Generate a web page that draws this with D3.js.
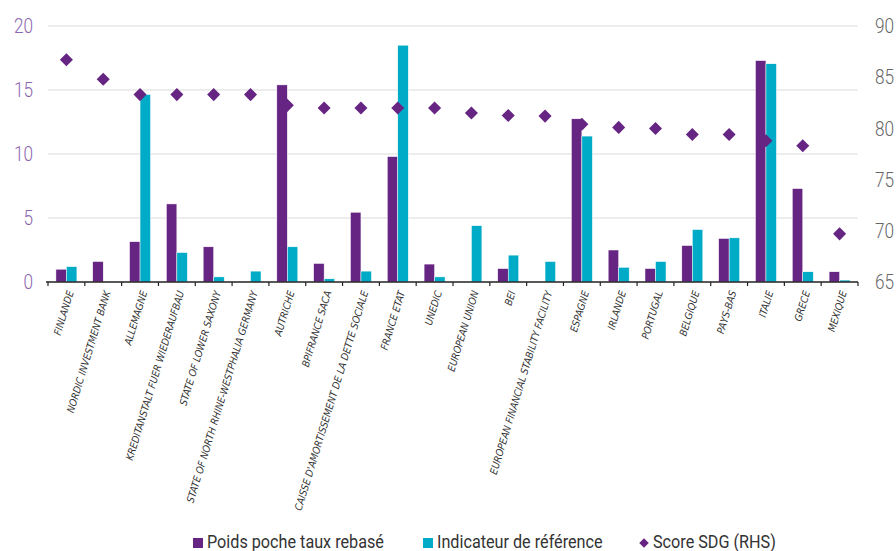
<!DOCTYPE html>
<html><head><meta charset="utf-8">
<script src="https://cdn.jsdelivr.net/npm/d3@7"></script>
<style>body{margin:0;background:#fff}svg{display:block}</style>
</head><body>
<script>
const categories = ["FINLANDE","NORDIC INVESTMENT BANK","ALLEMAGNE","KREDITANSTALT FUER WIEDERAUFBAU","STATE OF LOWER SAXONY","STATE OF NORTH RHINE-WESTPHALIA GERMANY","AUTRICHE","BPIFRANCE SACA","CAISSE D'AMORTISSEMENT DE LA DETTE SOCIALE","FRANCE ETAT","UNEDIC","EUROPEAN UNION","BEI","EUROPEAN FINANCIAL STABILITY FACILITY","ESPAGNE","IRLANDE","PORTUGAL","BELGIQUE","PAYS-BAS","ITALIE","GRECE","MEXIQUE"];
const poids = [1.0,1.6,3.15,6.1,2.75,0,15.4,1.45,5.45,9.8,1.4,0,1.05,0,12.75,2.5,1.05,2.85,3.4,17.3,7.3,0.8];
const indicateur = [1.2,0,14.65,2.3,0.4,0.85,2.75,0.25,0.85,18.5,0.4,4.4,2.1,1.6,11.4,1.15,1.6,4.1,3.45,17.05,0.8,0.15];
const scoreSDG = [86.7,84.8,83.3,83.3,83.3,83.3,82.25,82.0,82.0,82.0,82.0,81.5,81.25,81.2,80.4,80.1,80.0,79.4,79.4,78.8,78.3,69.7];
const leftTicks = [0,5,10,15,20];
const rightTicks = [65,70,75,80,85,90];
const seriesNames = ["Poids poche taux rebasé","Indicateur de référence","Score SDG (RHS)"];
const colors = ["#662483","#00abc7","#662483"];

const W=896,H=551;
const m={l:48,r:38,t:26,b:269};
const svg=d3.select("body").append("svg").attr("width",W).attr("height",H);
const x=d3.scaleBand().domain(categories).range([m.l,W-m.r]).padding(0);
const yL=d3.scaleLinear().domain([0,20]).range([H-m.b,m.t]);
const yR=d3.scaleLinear().domain([65,90]).range([H-m.b,m.t]);

// grid
svg.append("g").selectAll("line").data(leftTicks.filter(d=>d>0)).join("line")
  .attr("x1",m.l).attr("x2",W-m.r).attr("y1",d=>yL(d)).attr("y2",d=>yL(d))
  .attr("stroke","#dcdcdc").attr("stroke-width",1.2);

// left axis labels
svg.append("g").selectAll("text").data(leftTicks).join("text")
  .attr("transform",d=>`translate(33,${yL(d)}) scale(0.86,1)`).attr("dy","0.36em").attr("text-anchor","end")
  .attr("font-family","Roboto").attr("font-weight",300).attr("font-size",20)
  .attr("fill","#8a65b0").text(d=>d);
// right axis labels
svg.append("g").selectAll("text").data(rightTicks).join("text")
  .attr("transform",d=>`translate(875,${yR(d)}) scale(0.86,1)`).attr("dy","0.36em").attr("text-anchor","start")
  .attr("font-family","Roboto").attr("font-weight",300).attr("font-size",20)
  .attr("fill","#666").text(d=>d);

const bw=10.5;
const g=svg.append("g");
g.selectAll("rect.p").data(poids).join("rect").attr("class","p")
  .attr("x",(d,i)=>x(categories[i])+x.bandwidth()/2-bw).attr("width",bw)
  .attr("y",d=>yL(d)).attr("height",d=>yL(0)-yL(d)).attr("fill",colors[0])
  .attr("stroke","#fff").attr("stroke-width",0.5);
g.selectAll("rect.c").data(indicateur).join("rect").attr("class","c")
  .attr("x",(d,i)=>x(categories[i])+x.bandwidth()/2).attr("width",bw)
  .attr("y",d=>yL(d)).attr("height",d=>yL(0)-yL(d)).attr("fill",colors[1])
  .attr("stroke","#fff").attr("stroke-width",0.5);

// x axis
const xa=svg.append("g").attr("transform",`translate(0,${yL(0)})`);
xa.append("line").attr("x1",m.l-2).attr("x2",W-m.r).attr("stroke","#222").attr("stroke-width",1.3);
xa.selectAll("line.t").data(d3.range(categories.length+1)).join("line").attr("class","t")
  .attr("x1",i=>m.l+i*x.step()).attr("x2",i=>m.l+i*x.step()).attr("y1",0).attr("y2",4)
  .attr("stroke","#222").attr("stroke-width",1.2);
xa.selectAll("text").data(categories).join("text")
  .attr("transform",d=>`translate(${x(d)+x.bandwidth()/2+4},9) rotate(-73)`)
  .attr("text-anchor","end").attr("dy","0.35em")
  .attr("font-family","'Liberation Sans Narrow','DejaVu Sans Condensed',sans-serif")
  .attr("font-style","italic").attr("font-size",10.2).attr("fill","#333").text(d=>d);

// diamonds
svg.append("g").selectAll("path").data(scoreSDG).join("path")
  .attr("transform",(d,i)=>`translate(${x(categories[i])+x.bandwidth()/2},${yR(d)}) rotate(45)`)
  .attr("d",d3.symbol().type(d3.symbolSquare).size(85)).attr("fill",colors[2]);

// legend
const lg=svg.append("g").attr("font-family","Roboto").attr("font-size",18).attr("fill","#333");
const items=[{x:193,t:seriesNames[0],c:colors[0],s:"sq"},{x:423,t:seriesNames[1],c:colors[1],s:"sq"},{x:639,t:seriesNames[2],c:colors[2],s:"di"}];
items.forEach(it=>{
  if(it.s==="sq") lg.append("rect").attr("x",it.x).attr("y",538).attr("width",10).attr("height",10).attr("fill",it.c);
  else lg.append("path").attr("transform",`translate(${it.x+5},543) rotate(45)`).attr("d",d3.symbol().type(d3.symbolSquare).size(45)).attr("fill",it.c);
  lg.append("text").attr("transform",`translate(${it.x+14},547.5) scale(0.9,1)`).text(it.t);
});
</script>
</body></html>
